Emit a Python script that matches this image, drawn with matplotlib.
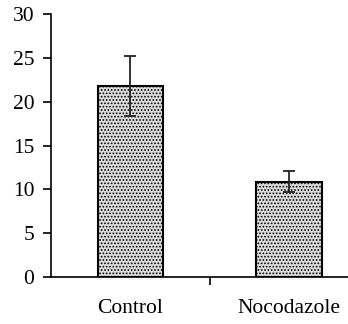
import matplotlib.pyplot as plt
import numpy

groups = ['Control', 'Nocodazole']
means = numpy.array([21.8, 10.9])
errors = numpy.array([3.4, 1.2])

plt.rcParams['font.family'] = ['Liberation Serif', 'DejaVu Serif']
plt.rcParams['hatch.color'] = '#707070'
plt.rcParams['hatch.linewidth'] = 0.8

fig = plt.figure(figsize=(3.48, 3.24), dpi=100)
ax = fig.add_axes([0.1466, 0.145, 0.8534, 0.811])

x = numpy.arange(len(groups))
ax.bar(x, means, width=0.41, color='#dcdcdc', edgecolor='black',
       linewidth=1.5, hatch='.....')
ax.errorbar(x, means, yerr=errors, fmt='none', ecolor='#222222',
            elinewidth=1.3, capsize=4, capthick=1.3)

ax.set_xlim(-0.5, 1.372)
ax.set_ylim(0, 30)
ax.set_yticks([0, 5, 10, 15, 20, 25, 30])
ax.set_xticks(x)
ax.set_xticklabels(groups)
ax.set_xticks([0.5], minor=True)
ax.tick_params(axis='x', which='major', length=0, pad=16, labelsize=15.5)
ax.tick_params(axis='x', which='minor', length=6, width=1.2, direction='out')
ax.tick_params(axis='y', length=6, width=1.2, pad=6, labelsize=15.5)

for s in ['top', 'right']:
    ax.spines[s].set_visible(False)
ax.spines['left'].set_linewidth(1.2)
ax.spines['bottom'].set_linewidth(1.2)

plt.savefig('out.png', dpi=100)
